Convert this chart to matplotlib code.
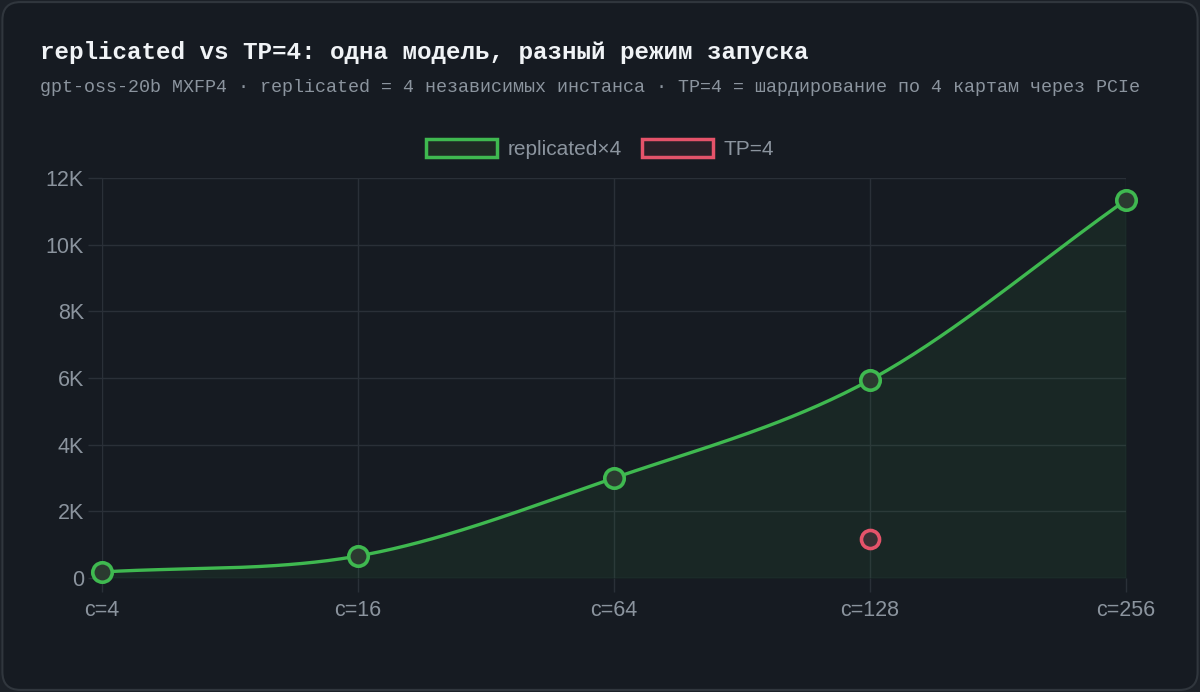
import numpy as np
import matplotlib
matplotlib.use("Agg")
import matplotlib.pyplot as plt
from matplotlib.patches import FancyBboxPatch, Patch

categories = ["c=4", "c=16", "c=64", "c=128", "c=256"]
replicated = [180, 660, 3000, 5940, 11340]
tp4 = [None, None, None, 1170, None]
yticks = [0, 2000, 4000, 6000, 8000, 10000, 12000]
ytick_labels = ["0", "2K", "4K", "6K", "8K", "10K", "12K"]

BG = "#161b22"
GRID = "#2a3038"
TXT = "#8b949e"
GREEN = "#3fb950"
RED = "#e5536a"


def monotone(x, y, n=60):
    # Fritsch-Carlson monotone cubic, only for drawing the smooth line
    x = np.asarray(x, float)
    y = np.asarray(y, float)
    h = np.diff(x)
    d = np.diff(y) / h
    m = np.zeros_like(y)
    m[0], m[-1] = d[0], d[-1]
    for i in range(1, len(y) - 1):
        if d[i - 1] * d[i] > 0:
            m[i] = (d[i - 1] + d[i]) / 2
    for i in range(len(d)):
        if d[i] == 0:
            m[i] = m[i + 1] = 0
            continue
        a, b = m[i] / d[i], m[i + 1] / d[i]
        s = a * a + b * b
        if s > 9:
            t = 3 / np.sqrt(s)
            m[i], m[i + 1] = t * a * d[i], t * b * d[i]
    xs, ys = [], []
    for i in range(len(d)):
        t = np.linspace(0, 1, n)
        h00 = 2 * t**3 - 3 * t**2 + 1
        h10 = t**3 - 2 * t**2 + t
        h01 = -2 * t**3 + 3 * t**2
        h11 = t**3 - t**2
        xs.append(x[i] + t * h[i])
        ys.append(h00 * y[i] + h10 * h[i] * m[i] + h01 * y[i + 1] + h11 * h[i] * m[i + 1])
    return np.concatenate(xs), np.concatenate(ys)


fig = plt.figure(figsize=(12, 6.92), dpi=100)
fig.patch.set_facecolor("#1c2128")
card = FancyBboxPatch((0.002, 0.003), 0.996, 0.994, boxstyle="round,pad=0,rounding_size=0.015",
                      transform=fig.transFigure, facecolor=BG, edgecolor="#30363d", linewidth=1.5,
                      mutation_aspect=1200 / 692, zorder=-10)
fig.patches.append(card)

ax = fig.add_axes([102 / 1200, 1 - 578 / 692, 1024 / 1200, 400 / 692])
ax.set_facecolor(BG)
ax.patch.set_alpha(0)

x = np.arange(len(categories))
xs, ys = monotone(x, replicated)
ax.fill_between(xs, 0, ys, color=GREEN, alpha=0.08, linewidth=0)
ax.plot(xs, ys, color=GREEN, linewidth=2.4, solid_capstyle="round")
ax.plot(x, replicated, linestyle="none", marker="o", markersize=14, markeredgewidth=2.6,
        markeredgecolor=GREEN, markerfacecolor="#2b3a30")

tx = [i for i, v in enumerate(tp4) if v is not None]
ty = [v for v in tp4 if v is not None]
ax.plot(tx, ty, linestyle="none", marker="o", markersize=13, markeredgewidth=2.6,
        markeredgecolor=RED, markerfacecolor="#3a3034")

ax.set_xlim(0, len(categories) - 1)
ax.set_ylim(0, 12000)
ax.set_xticks(x)
ax.set_xticklabels(categories)
ax.set_yticks(yticks)
ax.set_yticklabels(ytick_labels)
ax.grid(True, color=GRID, linewidth=1)
ax.set_axisbelow(True)
for s in ax.spines.values():
    s.set_visible(False)
ax.tick_params(axis="both", colors=GRID, labelcolor=TXT, labelsize=15.5, length=10, width=1)
ax.tick_params(axis="x", pad=6)
ax.tick_params(axis="y", pad=3)
for lab in ax.get_xticklabels() + ax.get_yticklabels():
    lab.set_fontfamily("Liberation Sans")
for ln in ax.lines:
    ln.set_clip_on(False)

fig.text(40 / 1200, 1 - 53 / 692, "replicated vs TP=4: одна модель, разный режим запуска",
         family="Liberation Mono", weight="bold", fontsize=17.5, color="#f0f3f6", va="center")
fig.text(40 / 1200, 1 - 88 / 692,
         "gpt-oss-20b MXFP4 · replicated = 4 независимых инстанса · TP=4 = шардирование по 4 картам через PCIe",
         family="Liberation Mono", fontsize=13.2, color=TXT, va="center")

handles = [Patch(facecolor="#1f2a24", edgecolor=GREEN, linewidth=2.5, label="replicated×4"),
           Patch(facecolor="#2a2028", edgecolor=RED, linewidth=2.5, label="TP=4")]
leg = fig.legend(handles=handles, loc="center", bbox_to_anchor=(0.5, 1 - 149 / 692), ncol=2,
                 frameon=False, handlelength=3.4, handleheight=1.0, columnspacing=1.0, handletextpad=0.5,
                 prop={"family": "Liberation Sans", "size": 15})
for t in leg.get_texts():
    t.set_color(TXT)

fig.savefig("out.png", dpi=100, facecolor=fig.get_facecolor())
